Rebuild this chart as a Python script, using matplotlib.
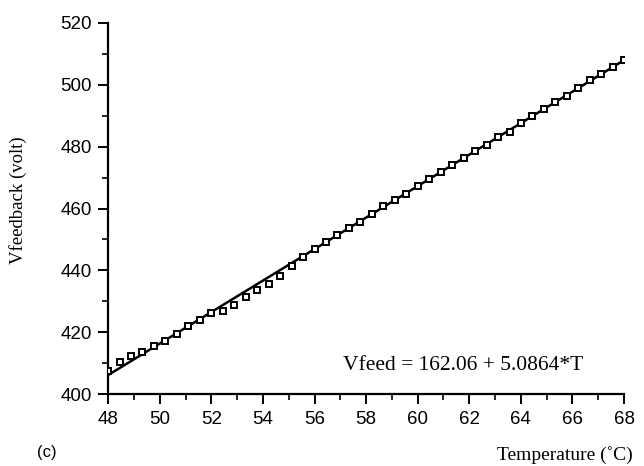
import matplotlib
matplotlib.use('Agg')
import matplotlib.pyplot as plt
from matplotlib.ticker import MultipleLocator

temp = [48.00, 48.44, 48.89, 49.33, 49.78, 50.22, 50.67, 51.11, 51.56, 52.00,
        52.44, 52.89, 53.33, 53.78, 54.22, 54.67, 55.11, 55.56, 56.00, 56.44,
        56.89, 57.33, 57.78, 58.22, 58.67, 59.11, 59.56, 60.00, 60.44, 60.89,
        61.33, 61.78, 62.22, 62.67, 63.11, 63.56, 64.00, 64.44, 64.89, 65.33,
        65.78, 66.22, 66.67, 67.11, 67.56, 68.00]
vfeed = [407.5, 410.3, 412.4, 413.6, 415.5, 417.2, 419.4, 422.0, 423.9, 426.1,
         427.0, 428.9, 431.3, 433.7, 435.6, 438.3, 441.5, 444.4, 446.9, 449.2,
         451.6, 453.7, 455.7, 458.2, 460.7, 462.7, 464.7, 467.2, 469.7, 471.8,
         474.0, 476.4, 478.5, 480.6, 483.1, 484.7, 487.6, 489.8, 492.3, 494.4,
         496.4, 498.9, 501.4, 503.4, 505.7, 508.0]

# Fit line: Vfeed = 162.06 + 5.0864*T
fit_a = 162.06
fit_b = 5.0864
fit_t = [48, 68]

xticks = [48, 50, 52, 54, 56, 58, 60, 62, 64, 66, 68]
yticks = [400, 420, 440, 460, 480, 500, 520]

fig = plt.figure(figsize=(6.44, 4.66), dpi=100)
ax = fig.add_axes([0.168, 0.154, 0.801, 0.797])

ax.plot(fit_t, [fit_a + fit_b * t for t in fit_t], color='black', lw=1.8, zorder=2)
ax.plot(temp, vfeed, ls='none', marker='s', ms=5, mfc='white', mec='black',
        mew=1.4, zorder=3)

ax.set_xlim(48, 68)
ax.set_ylim(400, 520)
ax.set_xticks(xticks)
ax.set_yticks(yticks)
ax.xaxis.set_minor_locator(MultipleLocator(1))
ax.yaxis.set_minor_locator(MultipleLocator(10))

for s in ['top', 'right']:
    ax.spines[s].set_visible(False)
for s in ['left', 'bottom']:
    ax.spines[s].set_linewidth(1.6)

ax.tick_params(which='major', direction='out', length=7, width=1.4,
               labelsize=13.5, pad=5)
ax.tick_params(which='minor', direction='out', length=4, width=1.2)
for lab in ax.get_xticklabels() + ax.get_yticklabels():
    lab.set_family('Liberation Sans')

ax.text(0.455, 0.078, 'Vfeed = 162.06 + 5.0864*T', transform=ax.transAxes,
        family='Liberation Serif', fontsize=15.5, ha='left', va='center')

fig.text(0.028, 0.57, 'Vfeedback (volt)', rotation=90, family='Liberation Serif',
         fontsize=13.5, ha='center', va='center')
fig.text(0.983, 0.004, 'Temperature (\u02daC)', family='Liberation Serif',
         fontsize=14, ha='right', va='bottom')
fig.text(0.058, 0.012, '(c)', family='Liberation Sans', fontsize=12,
         ha='left', va='bottom')

fig.savefig('out.png', dpi=100)
